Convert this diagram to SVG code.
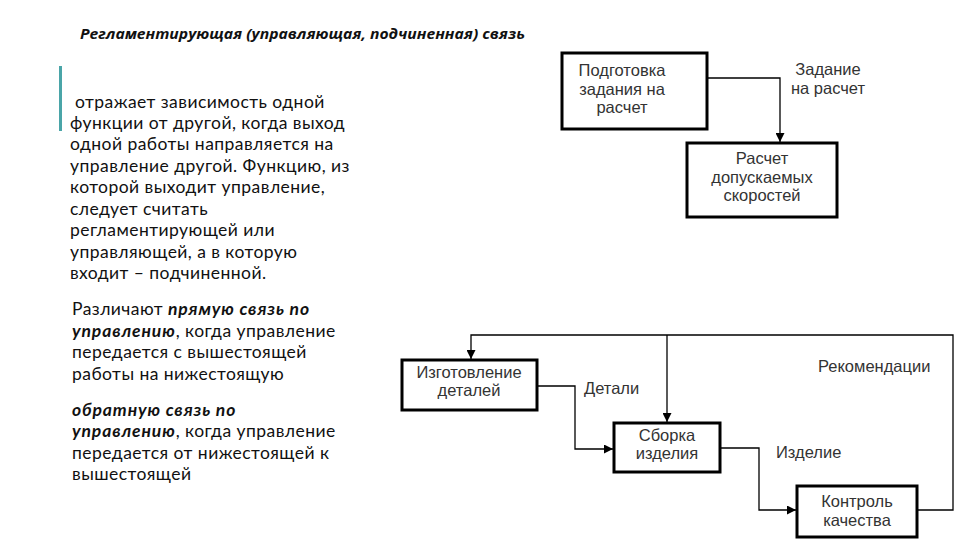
<svg xmlns="http://www.w3.org/2000/svg" width="960" height="540" viewBox="0 0 960 540">
<style>
.box{fill:#fff;stroke:#000;stroke-width:3}
.lbl{font-family:"Liberation Sans",Arial,sans-serif;font-size:16.5px;fill:#333;text-anchor:middle}
.lab{font-family:"Liberation Sans",Arial,sans-serif;font-size:16.5px;fill:#333}
.body{font-family:Lato,"Open Sans",sans-serif;font-size:17.5px;fill:#111;letter-spacing:0.45px}
.em{font-weight:bold;font-style:italic;letter-spacing:0.9px}
.con{fill:none;stroke:#000;stroke-width:1.3}
</style>
<defs>
<marker id="arr" viewBox="0 0 10 10" refX="10" refY="5" markerWidth="9" markerHeight="9" markerUnits="userSpaceOnUse" orient="auto">
<path d="M0,0 L10,5 L0,10 z" fill="#000"/>
</marker>
</defs>
<rect width="960" height="540" fill="#fff"/>
<text x="80" y="39" font-family="'Open Sans','Noto Sans',sans-serif" font-size="14" font-weight="bold" font-style="italic" fill="#111" textLength="445" lengthAdjust="spacingAndGlyphs">Регламентирующая (управляющая, подчиненная) связь</text>
<rect x="59" y="66" width="3" height="65" fill="#4aa5a8"/>
<g id="left-text" class="body">
<text x="70" y="108" xml:space="preserve"> отражает зависимость одной</text>
<text x="70" y="129">функции от другой, когда выход</text>
<text x="70" y="150">одной работы направляется на</text>
<text x="70" y="172">управление другой. Функцию, из</text>
<text x="70" y="193">которой выходит управление,</text>
<text x="70" y="215">следует считать</text>
<text x="70" y="236">регламентирующей или</text>
<text x="70" y="258">управляющей, а в которую</text>
<text x="70" y="279">входит – подчиненной.</text>
<text x="72" y="315">Различают <tspan class="em">прямую связь по</tspan></text>
<text x="72" y="337"><tspan class="em">управлению</tspan>, когда управление</text>
<text x="72" y="358">передается с вышестоящей</text>
<text x="72" y="380">работы на нижестоящую</text>
<text x="72" y="416"><tspan class="em">обратную связь по</tspan></text>
<text x="72" y="437"><tspan class="em">управлению</tspan>, когда управление</text>
<text x="72" y="459">передается от нижестоящей к</text>
<text x="72" y="480">вышестоящей</text>
</g>
<g id="connectors">
<path class="con" d="M707,78 H780 V142" marker-end="url(#arr)"/>
<path class="con" d="M537,386 H575 V449 H613" marker-end="url(#arr)"/>
<path class="con" d="M720,448 H759 V510 H796" marker-end="url(#arr)"/>
<path class="con" d="M917,510 H953 V335 H471 V359" marker-end="url(#arr)"/>
<path class="con" d="M667,335 V422" marker-end="url(#arr)"/>
<text class="lbl" x="828" y="75">Задание</text>
<text class="lbl" x="828" y="94">на расчет</text>
<text class="lab" x="584" y="394">Детали</text>
<text class="lab" x="776" y="458">Изделие</text>
<text class="lab" x="818" y="372">Рекомендации</text>
</g>
<g id="n1">
<rect class="box" x="562" y="53" width="145" height="76"/>
<text class="lbl" x="622" y="76">Подготовка</text>
<text class="lbl" x="622" y="95">задания на</text>
<text class="lbl" x="622" y="113">расчет</text>
</g>
<g id="n2">
<rect class="box" x="687" y="143" width="150" height="74"/>
<text class="lbl" x="762" y="164">Расчет</text>
<text class="lbl" x="762" y="183">допускаемых</text>
<text class="lbl" x="762" y="201">скоростей</text>
</g>
<g id="n3">
<rect class="box" x="402" y="360" width="135" height="50"/>
<text class="lbl" x="469" y="378">Изготовление</text>
<text class="lbl" x="469" y="396">деталей</text>
</g>
<g id="n4">
<rect class="box" x="614" y="423" width="106" height="49"/>
<text class="lbl" x="667" y="441">Сборка</text>
<text class="lbl" x="667" y="459">изделия</text>
</g>
<g id="n5">
<rect class="box" x="797" y="486" width="120" height="51"/>
<text class="lbl" x="857" y="507">Контроль</text>
<text class="lbl" x="857" y="526">качества</text>
</g>
</svg>
